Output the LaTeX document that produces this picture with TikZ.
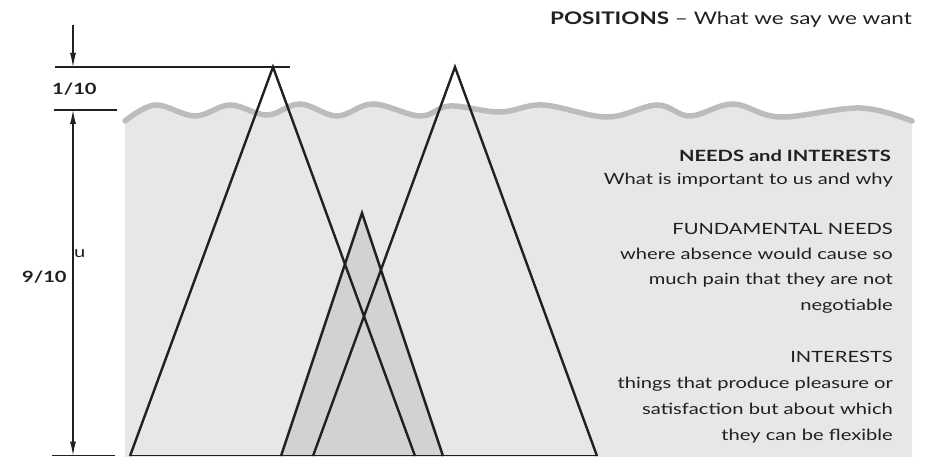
\documentclass[tikz,border=0pt]{standalone}
\usepackage{fontspec}
\setmainfont{Lato}[FakeStretch=1.3]
\usetikzlibrary{arrows.meta}
\definecolor{lightfill}{HTML}{E6E7E8}
\definecolor{darkfill}{HTML}{D1D2D4}
\definecolor{wavecol}{HTML}{BBBCBE}
\definecolor{ink}{HTML}{231F20}
\begin{document}
\begin{tikzpicture}[x=1pt,y=-1pt,
  tri/.style={draw=ink, line width=2.4pt, line join=miter},
  dim/.style={draw=ink, line width=1.1pt},
  dimarrow/.style={dim, -{Latex[length=14pt,width=6pt]}},
  txt/.style={anchor=base east, inner sep=0pt, text=ink, font=\fontsize{15.5}{18}\selectfont},
  lbl/.style={anchor=base west, inner sep=0pt, text=ink, font=\fontsize{15.5}{18}\selectfont\bfseries}]
\useasboundingbox (0,0) rectangle (935,457);
% grey sea
\fill[lightfill] (125,457) -- plot[smooth, tension=0.6] coordinates {(125,121) (155,105) (195,116) (230,105) (267,115) (300,104) (337,116) (373,104) (420,116) (450,106) (500,112) (543,105) (607,117) (657,105) (690,116) (733,104) (780,117) (860,108) (912,121)} -- (912,457) -- cycle;
% triangle vertices
\coordinate (a1) at (273,67);  \coordinate (l1) at (130,456); \coordinate (r1) at (415,456);
\coordinate (a2) at (455,67);  \coordinate (l2) at (313,456); \coordinate (r2) at (597,456);
\coordinate (a3) at (362,213); \coordinate (l3) at (281,456); \coordinate (r3) at (443,456);
\fill[darkfill] (l3) -- (a3) -- (r3) -- cycle;
% wave line
\draw[wavecol, line width=5.5pt, line cap=round] plot[smooth, tension=0.6] coordinates {(125,121) (155,105) (195,116) (230,105) (267,115) (300,104) (337,116) (373,104) (420,116) (450,106) (500,112) (543,105) (607,117) (657,105) (690,116) (733,104) (780,117) (860,108) (912,121)};
% triangles
\draw[tri] (l3) -- (a3) -- (r3);
\draw[tri] (l1) -- (a1) -- (r1);
\draw[tri] (l2) -- (a2) -- (r2);
% base line
\coordinate (bL) at (130,455.5); \coordinate (bR) at (598,455.5);
\draw[dim, line width=1.4pt] (bL) -- (bR);
% dimension lines
\coordinate (t1L) at (55,67);  \coordinate (t1R) at (290,67);
\coordinate (t2L) at (54,110); \coordinate (t2R) at (117,110);
\coordinate (t3L) at (52,455.5); \coordinate (t3R) at (115,455.5);
\coordinate (arTop) at (73,25); \coordinate (a67) at (73,67);
\coordinate (a110) at (73,110); \coordinate (a455) at (73,455.5);
\draw[dim] (t1L) -- (t1R);
\draw[dim] (t2L) -- (t2R);
\draw[dim] (t3L) -- (t3R);
\draw[dimarrow] (arTop) -- (a67);
\draw[dim, {Latex[length=14pt,width=6pt]}-{Latex[length=14pt,width=6pt]}] (a110) -- (a455);
% labels
\node[lbl] (one) at (52,95) {1/10};
\node[lbl] (nine) at (22,283) {9/10};
\node[anchor=base west, inner sep=0pt, text=ink, font=\fontsize{15.5}{18}\selectfont] (u) at (74,258) {u};
% texts
\node[txt, font=\fontsize{17.3}{20}\selectfont] (pos) at (912,25) {\textbf{POSITIONS} – What we say we want};
\node[txt] (needs) at (891,162) {\textbf{NEEDS and INTERESTS}};
\node[txt] (needs2) at (893,185) {What is important to us and why};
\node[txt] (fn1) at (893,235) {FUNDAMENTAL NEEDS};
\node[txt] (fn2) at (893,260) {where absence would cause so};
\node[txt] (fn3) at (893,285) {much pain that they are not};
\node[txt] (fn4) at (893,310) {negotiable};
\node[txt] (in1) at (893,362) {INTERESTS};
\node[txt] (in2) at (893,388) {things that produce pleasure or};
\node[txt] (in3) at (893,414) {satisfaction but about which};
\node[txt] (in4) at (893,440) {they can be flexible};
\end{tikzpicture}
\end{document}
